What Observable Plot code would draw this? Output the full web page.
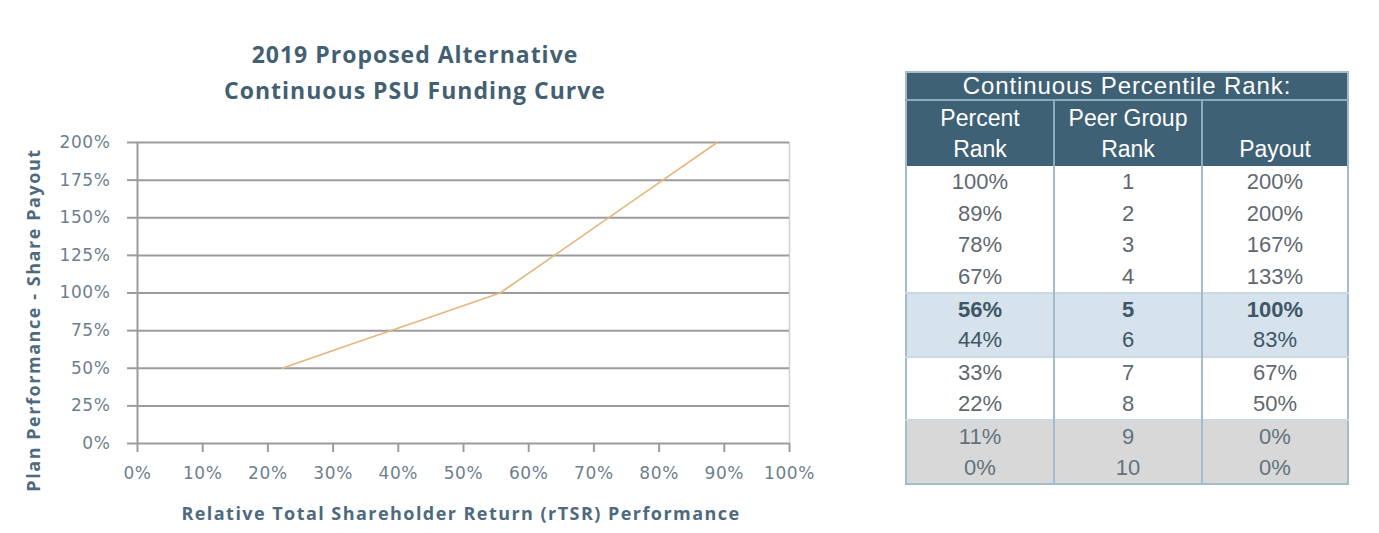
<!DOCTYPE html>
<html>
<head>
<meta charset="utf-8">
<script src="https://cdn.jsdelivr.net/npm/d3@7"></script>
<script src="https://cdn.jsdelivr.net/npm/@observablehq/plot@0.6"></script>
<style>
  html, body { margin: 0; padding: 0; background: #fff; }
  #root { position: relative; width: 1379px; height: 533px; overflow: hidden; }
  #chart { position: absolute; left: 0; top: 0; }
  .title { position: absolute; left: 115px; width: 600px; text-align: center;
           font-family: "Open Sans", sans-serif; font-weight: bold; font-size: 23px;
           color: #435f72; letter-spacing: 1px; line-height: 36px; top: 36px; }
  .xlabel { position: absolute; left: 111px; width: 700px; top: 501px; text-align: center;
            font-family: "Open Sans", sans-serif; font-weight: bold; font-size: 18px;
            color: #4e6a7d; letter-spacing: 1.45px; }
  .ylabel { position: absolute; left: 33px; top: 320px; width: 400px; text-align: center;
            font-family: "Open Sans", sans-serif; font-weight: bold; font-size: 18px;
            color: #4e6a7d; letter-spacing: 1.55px;
            transform: translate(-50%, -50%) rotate(-90deg); white-space: nowrap; }
  #tbl { position: absolute; left: 905px; top: 71px; width: 442px;
         border-collapse: collapse; table-layout: fixed;
         font-family: "Liberation Sans", Arial, sans-serif; border: 2px solid #a3bccb; }
  #tbl td, #tbl th { padding: 0; text-align: center; box-sizing: border-box; }
  #tbl th { background: #3f6176; color: #fff; font-weight: normal; font-size: 23px; }
  #tbl .h1 th { height: 28px; line-height: 26px; border-bottom: 2px solid #8eabbd; font-size: 24px; letter-spacing: 0.9px; }
  #tbl .h2 th { height: 66px; line-height: 31px; vertical-align: bottom; padding-bottom: 1px;
                border-left: 2px solid #8eabbd; }
  #tbl .h2 th:first-child { border-left: none; }
  #tbl td { height: 31.8px; font-size: 22px; color: #5f6870; line-height: 28px;
            border-left: 2px solid #a3bccb; }
  #tbl td:first-child { border-left: none; }
  #tbl tr.blue td { background: #d6e3ec; color: #3e5666; }
  #tbl tr.blue.b td { font-weight: bold; }
  #tbl tr.gray td { background: #d8d8d8; color: #62727e; }
  #tbl tr.sep td { border-top: 2px solid #c9dae5; }
</style>
</head>
<body>
<div id="root">
  <div id="chart"></div>
  <div class="title">2019 Proposed Alternative<br>Continuous PSU Funding Curve</div>
  <div class="ylabel">Plan Performance - Share Payout</div>
  <div class="xlabel">Relative Total Shareholder Return (rTSR) Performance</div>
  <table id="tbl"></table>
</div>
<script>
// ---- data ----
const curveRank   = [0.222, 0.333, 0.444, 0.556, 0.667, 0.778, 0.889];
const curvePayout = [0.50, 0.667, 0.833, 1.00, 1.333, 1.667, 2.00];
const xTicks = [0, 0.1, 0.2, 0.3, 0.4, 0.5, 0.6, 0.7, 0.8, 0.9, 1.0];
const yTicks = [0, 0.25, 0.5, 0.75, 1.0, 1.25, 1.5, 1.75, 2.0];

const tableTitle = "Continuous Percentile Rank:";
const tableHeaders = [["Percent", "Rank"], ["Peer Group", "Rank"], ["", "Payout"]];
const percentRank = ["100%", "89%", "78%", "67%", "56%", "44%", "33%", "22%", "11%", "0%"];
const peerRank    = [1, 2, 3, 4, 5, 6, 7, 8, 9, 10];
const payout      = ["200%", "200%", "167%", "133%", "100%", "83%", "67%", "50%", "0%", "0%"];

// ---- chart ----
const pts = curveRank.map((x, i) => ({x, y: curvePayout[i]}));
const pct = d => Math.round(d * 100) + "%";

const chart = Plot.plot({
  width: 870,
  height: 533,
  marginLeft: 137,
  marginRight: 81,
  marginTop: 142,
  marginBottom: 90,
  style: { fontFamily: "'DejaVu Sans', sans-serif", fontSize: "16px", color: "#6e7f8c", background: "transparent" },
  x: { domain: [0, 1] },
  y: { domain: [0, 2] },
  marks: [
    Plot.ruleX([1], { stroke: "#d0d0d0", strokeWidth: 1.5 }),
    Plot.ruleY(yTicks.filter(d => d > 0), { stroke: "#9c9c9c", strokeWidth: 2 }),
    Plot.ruleY([0], { stroke: "#9c9c9c", strokeWidth: 2 }),
    Plot.ruleX([0], { stroke: "#9c9c9c", strokeWidth: 2 }),
    Plot.axisX({ ticks: xTicks, tickFormat: pct, tickSize: 9, tickPadding: 14, stroke: "#9c9c9c",
                 strokeWidth: 2, label: null, fill: "#6e7f8c", fontSize: 17 }),
    Plot.axisY({ ticks: yTicks, tickFormat: pct, tickSize: 10, tickPadding: 17, stroke: "#9c9c9c",
                 strokeWidth: 2, label: null, fill: "#6e7f8c", fontSize: 17 }),
    Plot.line(pts, { x: "x", y: "y", stroke: "#e6b67c", strokeWidth: 1.6 })
  ]
});
document.getElementById("chart").appendChild(chart);
chart.querySelectorAll("[aria-label$='tick label'] text").forEach(t => t.setAttribute("letter-spacing", "0.6"));

// ---- table ----
const tbl = d3.select("#tbl");
tbl.append("colgroup").selectAll("col").data([148, 148, 146]).join("col").style("width", d => d + "px");
tbl.append("tr").attr("class", "h1").append("th").attr("colspan", 3).text(tableTitle);
tbl.append("tr").attr("class", "h2").selectAll("th").data(tableHeaders).join("th")
  .html(d => d[0] ? d[0] + "<br>" + d[1] : d[1]);
const rows = percentRank.map((p, i) => [p, peerRank[i], payout[i]]);
tbl.selectAll("tr.row").data(rows).join("tr")
  .attr("class", (d, i) => "row" + (i === 4 || i === 5 ? " blue" : "") + (i === 4 ? " b" : "") +
                          (i >= 8 ? " gray" : "") + (i === 4 || i === 6 || i === 8 ? " sep" : ""))
  .selectAll("td").data(d => d).join("td").text(d => d);
</script>
</body>
</html>
